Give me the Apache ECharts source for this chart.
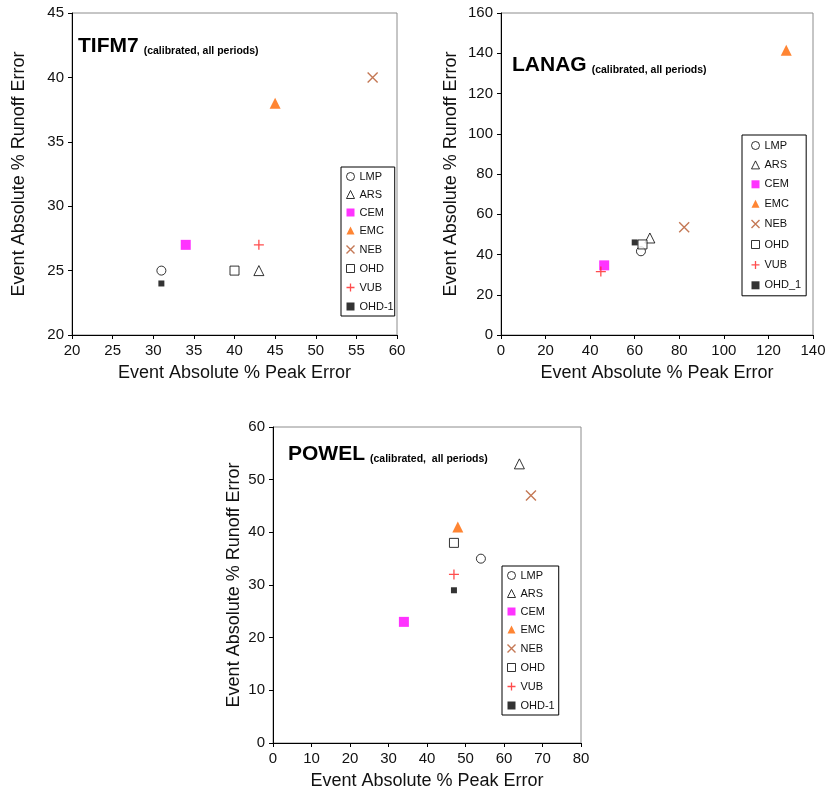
<!DOCTYPE html>
<html>
<head>
<meta charset="utf-8">
<script src="https://cdn.jsdelivr.net/npm/echarts@6/dist/echarts.min.js"></script>
<style>
html, body { margin: 0; padding: 0; background: #fff; }
#container { width: 829px; height: 793px; }
</style>
</head>
<body>
<div id="container"></div>
<script>
var methods = ['LMP', 'ARS', 'CEM', 'EMC', 'NEB', 'OHD', 'VUB', 'OHD-1'];
var methodsLanag = ['LMP', 'ARS', 'CEM', 'EMC', 'NEB', 'OHD', 'VUB', 'OHD_1'];

// [peak error, runoff error], same order as methods
var tifm7 = [[31, 25], [43, 25], [34, 27], [45, 38], [57, 40], [40, 25], [43, 27], [31, 24]];
var lanag = [[62.8, 41.6], [66.8, 48.2], [46.3, 34.6], [128, 141.5], [82.2, 53.5], [63.5, 45], [44.8, 31.5], [60, 46]];
var powel = [[54, 35], [64, 53], [34, 23], [48, 41], [67, 47], [47, 38], [47, 32], [47, 29]];

var xName = 'Event Absolute % Peak Error';
var yName = 'Event Absolute % Runoff Error';
var font = "'Liberation Sans', Arial, sans-serif";

var dom = document.getElementById('container');
var myChart = echarts.init(dom, null, { renderer: 'canvas' });

var marks = [
    { symbol: 'circle', size: 9, itemStyle: { color: '#fff', borderColor: '#000', borderWidth: 1 } },
    { symbol: 'triangle', size: 10, itemStyle: { color: '#fff', borderColor: '#000', borderWidth: 1 } },
    { symbol: 'rect', size: 10, itemStyle: { color: '#ff00ff', borderWidth: 0 } },
    { symbol: 'triangle', size: 11, itemStyle: { color: '#ff6600', borderWidth: 0 } },
    { symbol: 'path://M0,0L10,10M10,0L0,10', size: 10, itemStyle: { color: 'none', borderColor: '#b5562a', borderWidth: 1.4 } },
    { symbol: 'rect', size: 9, itemStyle: { color: '#fff', borderColor: '#000', borderWidth: 1 } },
    { symbol: 'path://M5,0L5,10M0,5L10,5', size: 10, itemStyle: { color: 'none', borderColor: '#ff2020', borderWidth: 1.3 } },
    { symbol: 'rect', size: 6, itemStyle: { color: '#000', borderWidth: 0 } }
];

function xAxis(idx, min, max, step) {
    return {
        type: 'value', gridIndex: idx, min: min, max: max, interval: step,
        name: xName, nameLocation: 'middle', nameGap: 29,
        nameTextStyle: { fontSize: 18, color: '#111', fontFamily: font },
        axisLine: { show: true, onZero: false, lineStyle: { color: '#000', width: 1 } },
        axisTick: { show: true, inside: false, length: 4, lineStyle: { color: '#000' } },
        axisLabel: { fontSize: 15, color: '#111', margin: 8, fontFamily: font },
        splitLine: { show: false }
    };
}
function yAxis(idx, min, max, step, gap) {
    return {
        type: 'value', gridIndex: idx, min: min, max: max, interval: step,
        name: yName, nameLocation: 'middle', nameGap: gap, nameRotate: 90,
        nameTextStyle: { fontSize: 18, color: '#111', fontFamily: font },
        axisLine: { show: true, onZero: false, lineStyle: { color: '#000', width: 1 } },
        axisTick: { show: true, inside: false, length: 4, lineStyle: { color: '#000' } },
        axisLabel: { fontSize: 15, color: '#111', margin: 8, fontFamily: font },
        splitLine: { show: false }
    };
}

function legend(names, left, top, pad, gap) {
    return {
        data: names.map(function (n, i) {
            return { name: n, icon: marks[i].symbol, itemStyle: marks[i].itemStyle };
        }),
        orient: 'vertical', left: left, top: top,
        padding: pad, itemGap: gap, itemWidth: 8, itemHeight: 8,
        borderColor: '#000', borderWidth: 1, backgroundColor: '#fff',
        selectedMode: false,
        textStyle: { fontSize: 11, color: '#111', fontFamily: font }
    };
}

function title(name, sub, left, top) {
    return {
        text: '{a|' + name + '} {b|' + sub + '}', left: left, top: top, padding: 0,
        textStyle: {
            rich: {
                a: { fontSize: 21, fontWeight: 'bold', color: '#000', fontFamily: font, lineHeight: 22, verticalAlign: 'bottom' },
                b: { fontSize: 10.5, fontWeight: 'bold', color: '#000', fontFamily: font, lineHeight: 12, verticalAlign: 'bottom' }
            }
        }
    };
}

var series = [];
[[tifm7, methods], [lanag, methodsLanag], [powel, methods]].forEach(function (set, g) {
    set[0].forEach(function (pt, i) {
        series.push({
            type: 'scatter', name: set[1][i], xAxisIndex: g, yAxisIndex: g,
            data: [pt], symbol: marks[i].symbol, symbolSize: marks[i].size,
            itemStyle: marks[i].itemStyle, silent: true
        });
    });
});

option = {
    backgroundColor: '#fff',
    animation: false,
    title: [
        title('TIFM7', '(calibrated, all periods)', 78, 35),
        title('LANAG', '(calibrated, all periods)', 512, 54),
        title('POWEL', '(calibrated,  all periods)', 288, 443)
    ],
    grid: [
        { left: 72, top: 13, width: 325, height: 322, show: true, borderColor: '#8c8c8c', borderWidth: 1, outerBoundsMode: 'none' },
        { left: 501, top: 13, width: 312, height: 322, show: true, borderColor: '#8c8c8c', borderWidth: 1, outerBoundsMode: 'none' },
        { left: 273, top: 427, width: 308, height: 316, show: true, borderColor: '#8c8c8c', borderWidth: 1, outerBoundsMode: 'none' }
    ],
    xAxis: [xAxis(0, 20, 60, 5), xAxis(1, 0, 140, 20), xAxis(2, 0, 80, 10)],
    yAxis: [yAxis(0, 20, 45, 5, 44), yAxis(1, 0, 160, 20, 41), yAxis(2, 0, 60, 10, 30)],
    legend: [
        legend(methods, 341, 167, [4, 1, 4, 3], 7),
        legend(methodsLanag, 742, 135, [5, 5, 5, 7], 8.4),
        legend(methods, 502, 566, [4, 4, 4, 3], 7)
    ],
    series: series
};

if (option && typeof option === 'object') {
    myChart.setOption(option, true);
}
</script>
</body>
</html>
